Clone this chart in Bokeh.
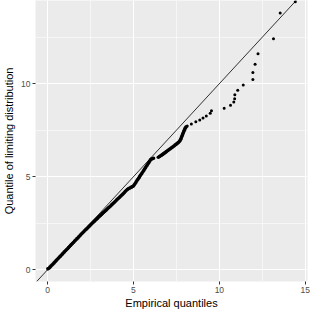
from bokeh.plotting import figure
from bokeh.models import FixedTicker, Range1d, Slope
from bokeh.embed import file_html
from bokeh.resources import INLINE

# Reference line y = x
line_gradient = 1.0
line_intercept = 0.0

# Dense part of the QQ cloud (empirical, theoretical)
dense_x = [0.02, 0.08, 0.14, 0.20, 0.26, 0.32, 0.38, 0.44, 0.50, 0.56, 0.62, 0.68, 0.74, 0.80,
           0.86, 0.92, 0.98, 1.04, 1.10, 1.16, 1.22, 1.28, 1.34, 1.40, 1.46, 1.52, 1.58, 1.64,
           1.70, 1.76, 1.82, 1.88, 1.94, 2.00, 2.06, 2.12, 2.18, 2.24, 2.30, 2.36, 2.42, 2.48,
           2.54, 2.60, 2.66, 2.72, 2.78, 2.84, 2.90, 2.96, 3.02, 3.08, 3.14, 3.20, 3.26, 3.32,
           3.38, 3.44, 3.50, 3.56, 3.62, 3.68, 3.74, 3.80, 3.86, 3.92, 3.98, 4.04, 4.10, 4.16,
           4.22, 4.28, 4.34, 4.40, 4.46, 4.52, 4.58, 4.64, 4.70, 4.76, 4.82, 4.88, 4.94, 5.00,
           5.05, 5.10, 5.15, 5.20, 5.25, 5.30, 5.35, 5.40, 5.45, 5.50, 5.55, 5.60, 5.65, 5.70,
           5.75, 5.80, 5.85, 5.90, 5.95, 6.00, 6.04, 6.10, 6.17,
           6.45, 6.52, 6.58, 6.64, 6.70, 6.76, 6.82, 6.88, 6.94, 7.00, 7.06, 7.12, 7.18, 7.24,
           7.30, 7.36, 7.42, 7.48, 7.54, 7.60, 7.66, 7.71, 7.75, 7.78, 7.81, 7.84, 7.87, 7.90,
           7.93, 7.96, 7.99, 8.03, 8.07]
dense_y = [0.05, 0.08, 0.14, 0.20, 0.26, 0.31, 0.37, 0.43, 0.49, 0.55, 0.61, 0.67, 0.72, 0.78,
           0.84, 0.90, 0.96, 1.02, 1.07, 1.13, 1.19, 1.25, 1.31, 1.37, 1.42, 1.48, 1.54, 1.60,
           1.66, 1.71, 1.77, 1.83, 1.89, 1.95, 2.00, 2.06, 2.12, 2.17, 2.22, 2.28, 2.33, 2.39,
           2.44, 2.50, 2.55, 2.60, 2.66, 2.71, 2.76, 2.82, 2.87, 2.92, 2.97, 3.03, 3.08, 3.13,
           3.18, 3.23, 3.29, 3.34, 3.39, 3.44, 3.50, 3.55, 3.60, 3.65, 3.71, 3.77, 3.82, 3.87,
           3.92, 3.98, 4.03, 4.08, 4.14, 4.20, 4.26, 4.31, 4.35, 4.38, 4.41, 4.44, 4.47, 4.50,
           4.57, 4.64, 4.71, 4.78, 4.85, 4.92, 4.99, 5.06, 5.13, 5.20, 5.27, 5.34, 5.41, 5.48,
           5.56, 5.63, 5.70, 5.77, 5.84, 5.91, 5.95, 5.97, 5.99,
           6.05, 6.09, 6.13, 6.16, 6.20, 6.24, 6.28, 6.32, 6.37, 6.41, 6.45, 6.49, 6.53, 6.57,
           6.61, 6.65, 6.70, 6.74, 6.78, 6.83, 6.88, 6.94, 7.01, 7.08, 7.15, 7.22, 7.29, 7.36,
           7.43, 7.50, 7.57, 7.63, 7.68]

# Sparse upper tail
tail_x = [8.13, 8.37, 8.63, 8.86, 9.05, 9.24, 9.47, 9.54, 10.28, 10.65, 10.84, 10.89, 10.90,
          11.07, 11.39, 11.95, 11.95, 12.08, 12.25, 13.15, 13.54, 14.42]
tail_y = [7.73, 7.84, 7.95, 8.05, 8.16, 8.27, 8.41, 8.55, 8.68, 8.84, 9.01, 9.19, 9.40,
          9.65, 9.93, 10.23, 10.60, 11.05, 11.61, 12.42, 13.80, 14.40]

x_ticks = [0, 5, 10, 15]
x_minor = [2.5, 7.5, 12.5]
y_ticks = [0, 5, 10]
y_minor = [2.5, 7.5, 12.5]

x_title = "Empirical quantiles"
y_title = "Quantile of limiting distribution"

x_lo, x_hi = -0.70, 15.13
y_lo, y_hi = -0.63, 14.47

p = figure(width=311, height=311, output_backend="svg", toolbar_location=None,
           x_range=Range1d(x_lo, x_hi), y_range=Range1d(y_lo, y_hi),
           min_border_left=27, min_border_right=4, min_border_top=0, min_border_bottom=0)

p.background_fill_color = "#EBEBEB"
p.border_fill_color = "white"
p.outline_line_color = None

for ax, t, m in ((p.xaxis, x_ticks, x_minor), (p.yaxis, y_ticks, y_minor)):
    ax.ticker = FixedTicker(ticks=t, minor_ticks=m)
    ax.axis_line_color = None
    ax.major_tick_line_color = "#333333"
    ax.major_tick_line_width = 1
    ax.major_tick_out = 3
    ax.major_tick_in = 0
    ax.minor_tick_line_color = None
    ax.major_label_text_font = "Liberation Sans"
    ax.major_label_text_font_size = "8.5px"
    ax.major_label_text_color = "#4D4D4D"
    ax.major_label_standoff = 1
    ax.axis_label_text_font = "Liberation Sans"
    ax.axis_label_text_font_size = "11px"
    ax.axis_label_text_font_style = "normal"
    ax.axis_label_text_color = "black"
    ax.axis_label_standoff = 1

p.xaxis.axis_label = x_title
p.yaxis.axis_label = y_title
p.yaxis.axis_label_standoff = 3

p.xgrid.ticker = FixedTicker(ticks=x_ticks, minor_ticks=x_minor)
p.ygrid.ticker = FixedTicker(ticks=y_ticks, minor_ticks=y_minor)
for g in (p.xgrid, p.ygrid):
    g.grid_line_color = "white"
    g.grid_line_width = 1.1
    g.minor_grid_line_color = "white"
    g.minor_grid_line_width = 0.55

p.scatter(dense_x, dense_y, size=3.6, color="black", line_color=None)
p.scatter(tail_x, tail_y, size=3.0, color="black", line_color=None)

p.add_layout(Slope(gradient=line_gradient, y_intercept=line_intercept,
                   line_color="black", line_width=0.8))

open("out.html", "w").write(file_html(p, INLINE))
